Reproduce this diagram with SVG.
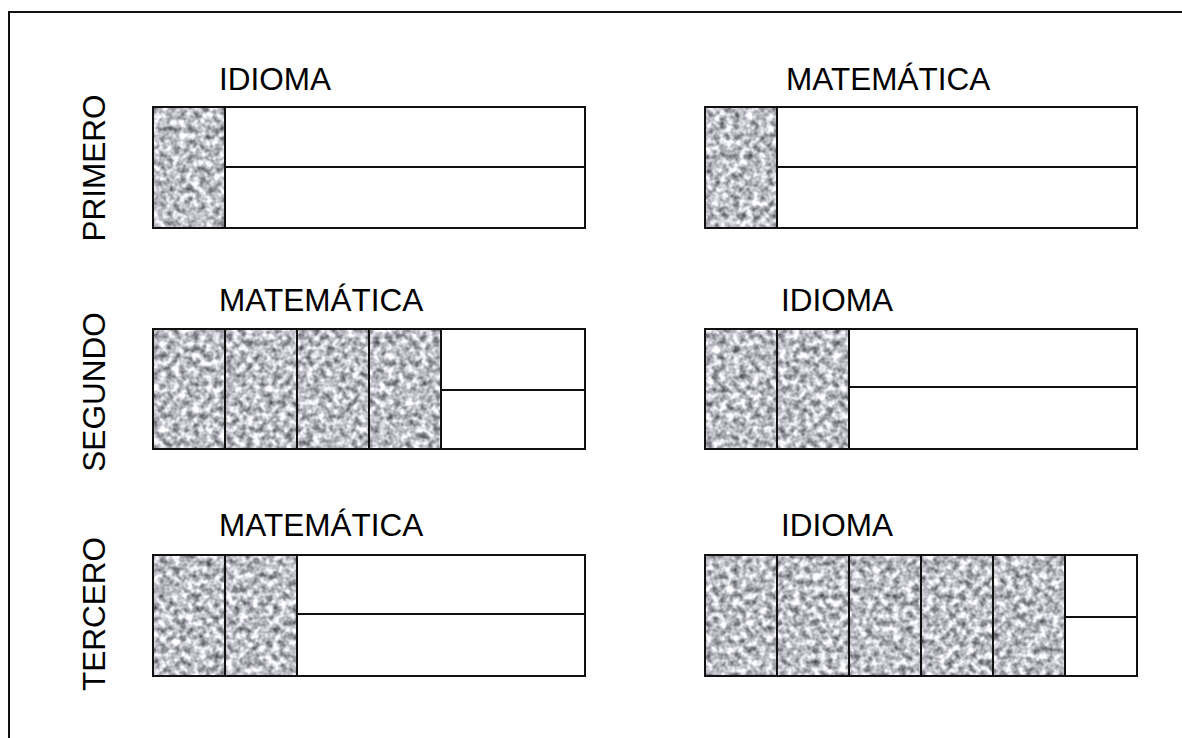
<svg xmlns="http://www.w3.org/2000/svg" width="1182" height="738" viewBox="0 0 1182 738">
<defs>
<filter id="stone" x="0" y="0" width="1" height="1" color-interpolation-filters="sRGB">
<feTurbulence type="fractalNoise" baseFrequency="0.15" numOctaves="2" seed="7"/>
<feColorMatrix type="matrix" values="1.15 0 0 0 0.17  1.15 0 0 0 0.17  1.15 0 0 0 0.2  0 0 0 0 1"/>
</filter>
<style>
.t{font-family:"Liberation Sans",Arial,sans-serif;font-size:31.5px;fill:#000}
.box{fill:#fff;stroke:#111;stroke-width:2}
.ln{stroke:#111;stroke-width:2;fill:none}
.sh{fill:#b8b8bc;filter:url(#stone)}
.cs{fill:none;stroke:#111;stroke-width:2}
</style>
</defs>
<rect width="1182" height="738" fill="#fff"/>
<path class="ln" d="M9 738 V12 H1182"/>

<g id="row-labels">
<text class="t" text-anchor="middle" transform="translate(105,168) rotate(-90)">PRIMERO</text>
<text class="t" text-anchor="middle" transform="translate(105,392) rotate(-90)">SEGUNDO</text>
<text class="t" text-anchor="middle" transform="translate(105,614) rotate(-90)">TERCERO</text>
</g>

<g id="primero-idioma">
<text class="t" x="219" y="90">IDIOMA</text>
<rect class="box" x="153" y="107" width="432" height="121"/>
<line class="ln" x1="225" y1="167" x2="585" y2="167"/>
<rect class="sh" x="153" y="107" width="72" height="121"/>
<rect class="cs" x="153" y="107" width="72" height="121"/>
</g>

<g id="primero-matematica">
<text class="t" x="786" y="90">MATEMÁTICA</text>
<rect class="box" x="705" y="107" width="432" height="121"/>
<line class="ln" x1="777" y1="167" x2="1137" y2="167"/>
<rect class="sh" x="705" y="107" width="72" height="121"/>
<rect class="cs" x="705" y="107" width="72" height="121"/>
</g>

<g id="segundo-matematica">
<text class="t" x="219" y="311">MATEMÁTICA</text>
<rect class="box" x="153" y="329" width="432" height="120"/>
<line class="ln" x1="441" y1="390" x2="585" y2="390"/>
<rect class="sh" x="153" y="329" width="288" height="120"/>
<rect class="cs" x="153" y="329" width="72" height="120"/>
<rect class="cs" x="225" y="329" width="72" height="120"/>
<rect class="cs" x="297" y="329" width="72" height="120"/>
<rect class="cs" x="369" y="329" width="72" height="120"/>
</g>

<g id="segundo-idioma">
<text class="t" x="781" y="311">IDIOMA</text>
<rect class="box" x="705" y="329" width="432" height="120"/>
<line class="ln" x1="849" y1="387" x2="1137" y2="387"/>
<rect class="sh" x="705" y="329" width="144" height="120"/>
<rect class="cs" x="705" y="329" width="72" height="120"/>
<rect class="cs" x="777" y="329" width="72" height="120"/>
</g>

<g id="tercero-matematica">
<text class="t" x="219" y="536">MATEMÁTICA</text>
<rect class="box" x="153" y="555" width="432" height="121"/>
<line class="ln" x1="297" y1="614" x2="585" y2="614"/>
<rect class="sh" x="153" y="555" width="144" height="121"/>
<rect class="cs" x="153" y="555" width="72" height="121"/>
<rect class="cs" x="225" y="555" width="72" height="121"/>
</g>

<g id="tercero-idioma">
<text class="t" x="781" y="536">IDIOMA</text>
<rect class="box" x="705" y="555" width="432" height="121"/>
<line class="ln" x1="1065" y1="617" x2="1137" y2="617"/>
<rect class="sh" x="705" y="555" width="360" height="121"/>
<rect class="cs" x="705" y="555" width="72" height="121"/>
<rect class="cs" x="777" y="555" width="72" height="121"/>
<rect class="cs" x="849" y="555" width="72" height="121"/>
<rect class="cs" x="921" y="555" width="72" height="121"/>
<rect class="cs" x="993" y="555" width="72" height="121"/>
</g>
</svg>
